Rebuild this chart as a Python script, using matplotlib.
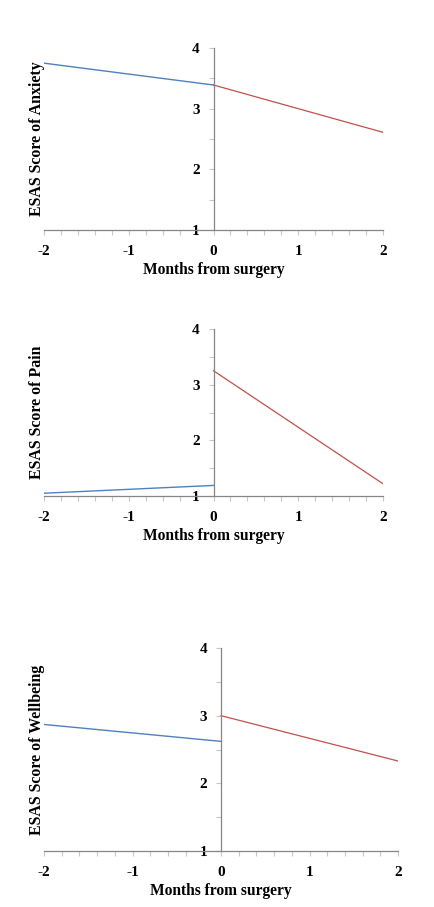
import matplotlib
matplotlib.use("Agg")
import matplotlib.pyplot as plt
from matplotlib.ticker import MultipleLocator

plt.rcParams['font.family'] = ['Liberation Serif', 'DejaVu Serif']
plt.rcParams['font.weight'] = 'bold'
plt.rcParams['axes.unicode_minus'] = False

# months relative to surgery
months_pre = [-2, 0]
months_post = [0, 2]

# estimated ESAS scores (start/end of each segment)
anxiety_pre = [3.75, 3.39]
anxiety_post = [3.39, 2.61]
pain_pre = [1.05, 1.19]
pain_post = [3.25, 1.22]
wellbeing_pre = [2.87, 2.62]
wellbeing_post = [3.00, 2.33]

labels = ["ESAS Score of Anxiety", "ESAS Score of Pain", "ESAS Score of Wellbeing"]
pre = [anxiety_pre, pain_pre, wellbeing_pre]
post = [anxiety_post, pain_post, wellbeing_post]

W, H = 434, 907
# axes boxes in pixels: left, right, top, bottom
boxes = [(44, 383, 48, 230), (44, 383, 329, 496), (44, 398, 648, 851)]

fig = plt.figure(figsize=(W / 100, H / 100), dpi=100)

for i in range(3):
    l, r, t, b = boxes[i]
    ax = fig.add_axes([l / W, 1 - b / H, (r - l) / W, (b - t) / H])
    ax.plot(months_pre, pre[i], color='#4F81BD', lw=1)
    ax.plot(months_post, post[i], color='#C0504D', lw=0.9)
    ax.set_xlim(-2, 2)
    ax.set_ylim(1, 4)

    ax.spines['top'].set_visible(False)
    ax.spines['right'].set_visible(False)
    ax.spines['left'].set_position(('data', 0))
    ax.spines['left'].set_color('#868686')
    ax.spines['bottom'].set_color('#868686')
    ax.spines['left'].set_linewidth(0.9)
    ax.spines['bottom'].set_linewidth(0.9)

    ax.xaxis.set_major_locator(MultipleLocator(1))
    ax.xaxis.set_minor_locator(MultipleLocator(0.2))
    ax.yaxis.set_major_locator(MultipleLocator(1))
    ax.yaxis.set_minor_locator(MultipleLocator(0.5))
    ax.tick_params(axis='both', which='both', direction='out', length=3.5,
                   width=0.8, color='#c8c8c8', labelsize=11)
    ax.tick_params(axis='x', pad=7)
    ax.tick_params(axis='y', pad=6.5)

    for lab in ax.get_xticklabels() + ax.get_yticklabels():
        lab.set_fontweight('bold')

    ax.set_xlabel("Months from surgery", fontsize=11.2, fontweight='bold', labelpad=3)
    ax.set_ylabel(labels[i], fontsize=11.4, fontweight='bold')
    ax.yaxis.set_label_coords(0.004, 0.5)

fig.savefig("out.png", dpi=100)
